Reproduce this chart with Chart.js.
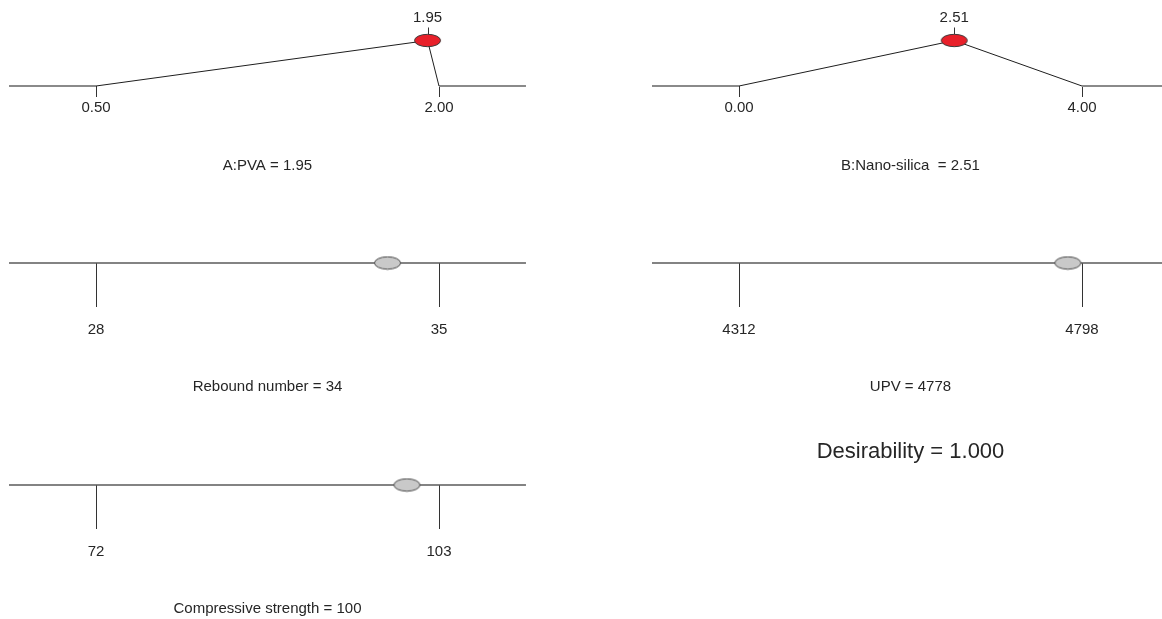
<!DOCTYPE html>
<html>
<head>
<meta charset="utf-8">
<script src="https://cdn.jsdelivr.net/npm/chart.js@4"></script>
<style>
  html, body { margin: 0; padding: 0; background: #fff; }
  body { width: 1162px; height: 619px; overflow: hidden; position: relative; }
  canvas { position: absolute; }
</style>
</head>
<body>
<script>
// Data
const panelNames = ["A:PVA", "B:Nano-silica ", "Rebound number", "UPV", "Compressive strength"];
const lowValues = [0.5, 0, 28, 4312, 72];
const highValues = [2, 4, 35, 4798, 103];
const optimumValues = [1.95, 2.51, 33.95, 4778, 100.1];
const decimals = [2, 2, 0, 0, 0];
const isFactor = [true, true, false, false, false];
const desirability = 1.0;

// Layout (where each ramp sits on the page)
const slots = [
  { left: 0, base: 86 },
  { left: 640, base: 86 },
  { left: 0, base: 263 },
  { left: 640, base: 263 },
  { left: 0, base: 485 }
];
const canvasW = 540;
const canvasH = 320;
const baseOffset = 100; // baseline distance from canvas top
const rampHeight = 45.5; // pixels between desirability 0 and 1
const tickSpan = 343; // pixels between low and high
const extFrac = 0.2536; // axis extends this fraction of range past each end
const fontFamily = '"Liberation Sans", Arial, sans-serif';
const textColor = "#262626";

function ellipseMarker(fill, stroke) {
  let c = document.createElement("canvas");
  c.width = 29;
  c.height = 15;
  let g = c.getContext("2d");
  g.beginPath();
  g.ellipse(14.5, 7.5, 13, 6.2, 0, 0, Math.PI * 2);
  g.fillStyle = fill;
  g.fill();
  g.lineWidth = 1;
  g.strokeStyle = stroke;
  g.stroke();
  return c;
}

const redMarker = ellipseMarker("#e8202a", "#3a3a3a");
const greyMarker = ellipseMarker("#c9c9c9", "#4a4a4a");

function line(ctx, x1, y1, x2, y2, color, width) {
  ctx.save();
  ctx.beginPath();
  ctx.moveTo(x1, y1);
  ctx.lineTo(x2, y2);
  ctx.strokeStyle = color;
  ctx.lineWidth = width;
  ctx.stroke();
  ctx.restore();
}

function text(ctx, str, x, y, size) {
  ctx.save();
  ctx.font = size + "px " + fontFamily;
  ctx.fillStyle = textColor;
  ctx.textAlign = "center";
  ctx.textBaseline = "middle";
  ctx.fillText(str, x, y);
  ctx.restore();
}

function makeRamp(i) {
  let lo = lowValues[i];
  let hi = highValues[i];
  let val = optimumValues[i];
  let range = hi - lo;
  let xmin = lo - extFrac * range;
  let xmax = hi + extFrac * range;
  let factor = isFactor[i];

  let canvas = document.createElement("canvas");
  canvas.width = canvasW;
  canvas.height = canvasH;
  canvas.style.left = slots[i].left + "px";
  canvas.style.top = (slots[i].base - baseOffset) + "px";
  document.body.appendChild(canvas);

  // plot area width so that lo..hi spans tickSpan pixels
  let plotW = tickSpan * (1 + 2 * extFrac);
  let padLeft = (slots[i].left === 0 ? 9 : 652) - slots[i].left;

  let datasets = [];
  datasets.push({
    // the marker at the optimum
    data: [{ x: val, y: factor ? desirability : 0 }],
    showLine: false,
    pointStyle: factor ? redMarker : greyMarker,
    pointRadius: 7,
    order: 0,
    clip: false
  });
  if (factor) {
    datasets.push({
      data: [{ x: lo, y: 0 }, { x: val, y: desirability }, { x: hi, y: 0 }],
      showLine: true,
      borderColor: "#1e1e1e",
      borderWidth: 1,
      pointRadius: 0,
      order: 1,
      clip: false
    });
    datasets.push({
      data: [{ x: xmin, y: 0 }, { x: lo, y: 0 }, { x: (lo + hi) / 2, y: null }, { x: hi, y: 0 }, { x: xmax, y: 0 }],
      showLine: true,
      spanGaps: false,
      borderColor: "#8a8a8a",
      borderWidth: 2,
      pointRadius: 0,
      order: 2,
      clip: false
    });
  } else {
    datasets.push({
      data: [{ x: xmin, y: 0 }, { x: xmax, y: 0 }],
      showLine: true,
      borderColor: "#5a5a5a",
      borderWidth: 1.5,
      pointRadius: 0,
      order: 2,
      clip: false
    });
  }

  let rampTicks = {
    id: "rampTicks",
    beforeDatasetsDraw(chart) {
      let ctx = chart.ctx;
      let xs = chart.scales.x;
      let ys = chart.scales.y;
      let base = ys.getPixelForValue(0);
      let tickLen = factor ? 11 : 44;
      [lo, hi].forEach(function (v) {
        let px = Math.round(xs.getPixelForValue(v)) + 0.5;
        line(ctx, px, base, px, base + tickLen, "#333", 1);
      });
      if (factor) {
        let px = Math.round(xs.getPixelForValue(val)) + 0.5;
        let top = ys.getPixelForValue(desirability);
        line(ctx, px, top - 6, px, top - 13, "#333", 1);
      }
    },
    afterDatasetsDraw(chart) {
      let ctx = chart.ctx;
      let xs = chart.scales.x;
      let ys = chart.scales.y;
      let base = ys.getPixelForValue(0);
      let xl = xs.getPixelForValue(lo);
      let xh = xs.getPixelForValue(hi);
      let mid = (xl + xh) / 2;
      let d = decimals[i];
      let labelY = factor ? base + 22 : base + 67;
      text(ctx, lo.toFixed(d), xl, labelY, 15);
      text(ctx, hi.toFixed(d), xh, labelY, 15);
      let titleY = factor ? base + 79.5 : base + 123.5;
      text(ctx, panelNames[i] + " = " + val.toFixed(d), mid, titleY, 15);
      if (factor) {
        let top = ys.getPixelForValue(desirability);
        text(ctx, val.toFixed(d), xs.getPixelForValue(val), top - 22.5, 15);
      }
      if (i === 3) {
        text(ctx, "Desirability = " + desirability.toFixed(3), mid, base + 189, 22);
      }
    }
  };

  new Chart(canvas, {
    type: "scatter",
    data: { datasets: datasets },
    options: {
      responsive: false,
      animation: false,
      devicePixelRatio: 1,
      events: [],
      layout: {
        padding: {
          left: padLeft,
          right: canvasW - padLeft - plotW,
          top: baseOffset - rampHeight,
          bottom: canvasH - baseOffset
        }
      },
      scales: {
        x: { type: "linear", min: xmin, max: xmax, display: false },
        y: { type: "linear", min: 0, max: 1, display: false }
      },
      plugins: {
        legend: { display: false },
        tooltip: { enabled: false }
      }
    },
    plugins: [rampTicks]
  });
}

for (let i = 0; i < panelNames.length; i++) {
  makeRamp(i);
}
</script>
</body>
</html>
